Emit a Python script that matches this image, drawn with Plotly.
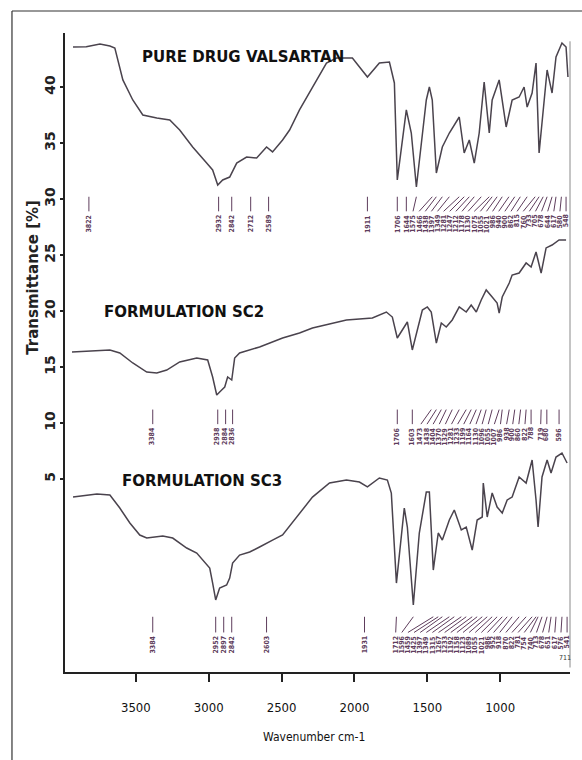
import plotly.graph_objects as go

# ---------------- spectra: wavenumber (cm-1) and transmittance (%) ----------------
pure_wn = [3931, 3840, 3746, 3678, 3644, 3589, 3521, 3452, 3356, 3267, 3199, 3110, 3014,
           2973, 2938, 2904, 2856, 2808, 2740, 2671, 2603, 2562, 2493, 2445, 2377, 2288,
           2192, 2123, 2014, 1911, 1829, 1760, 1726, 1706, 1644, 1610, 1575, 1507, 1486,
           1466, 1438, 1397, 1349, 1281, 1247, 1212, 1178, 1144, 1110, 1075, 1055, 1007,
           959, 918, 870, 836, 815, 781, 754, 733, 699, 678, 644, 617, 576, 548, 535]
pure_t = [43.57, 43.6, 43.84, 43.66, 43.48, 40.63, 38.84, 37.5, 37.23, 37.05, 36.16, 34.64,
          33.21, 32.59, 31.25, 31.70, 31.96, 33.21, 33.75, 33.66, 34.64, 34.20, 35.27, 36.16,
          37.95, 40.0, 42.14, 42.59, 42.59, 40.89, 42.14, 42.23, 40.36, 31.70, 37.95, 35.89,
          31.07, 38.84, 40.0, 38.84, 32.32, 34.64, 35.89, 37.32, 34.11, 35.27, 33.21, 35.89,
          40.45, 35.89, 38.84, 40.63, 36.43, 38.84, 39.11, 40.0, 38.21, 39.46, 42.14, 34.11,
          38.84, 41.52, 39.46, 42.68, 43.93, 43.57, 40.89]

sc2_wn = [3938, 3800, 3678, 3610, 3521, 3425, 3356, 3288, 3199, 3082, 3007, 2973, 2945,
          2911, 2890, 2870, 2842, 2822, 2788, 2651, 2493, 2377, 2288, 2055, 1877, 1781,
          1740, 1706, 1671, 1637, 1603, 1569, 1534, 1500, 1473, 1438, 1404, 1370, 1329,
          1281, 1233, 1199, 1164, 1130, 1096, 1055, 1021, 1007, 986, 938, 918, 870, 822,
          788, 754, 719, 685, 644, 596, 548]
sc2_t = [16.34, 16.45, 16.52, 16.25, 15.36, 14.55, 14.46, 14.73, 15.45, 15.80, 15.63, 14.11,
         12.5, 12.95, 13.21, 14.11, 13.84, 15.80, 16.25, 16.79, 17.59, 18.04, 18.48, 19.20,
         19.38, 19.91, 19.46, 17.59, 18.30, 19.02, 16.52, 18.30, 20.09, 20.36, 19.91, 17.14,
         18.93, 18.57, 19.20, 20.36, 19.91, 20.54, 19.91, 20.98, 21.88, 21.25, 20.71, 19.82,
         21.25, 22.5, 23.21, 23.39, 24.29, 23.93, 25.27, 23.39, 25.63, 25.89, 26.34, 26.34]

sc3_wn = [3931, 3767, 3678, 3610, 3541, 3473, 3425, 3315, 3247, 3151, 3082, 3041, 2993,
          2973, 2952, 2925, 2877, 2856, 2836, 2788, 2719, 2651, 2603, 2562, 2493, 2425,
          2377, 2288, 2171, 2055, 1966, 1911, 1829, 1774, 1747, 1712, 1658, 1637, 1596,
          1555, 1507, 1486, 1459, 1425, 1397, 1349, 1315, 1267, 1233, 1192, 1158, 1123,
          1116, 1089, 1055, 1021, 986, 952, 918, 870, 822, 781, 754, 740, 713, 678, 651,
          617, 576, 541]
sc3_t = [3.39, 3.66, 3.57, 2.41, 1.07, 0.0, -0.27, -0.09, -0.27, -1.16, -1.61, -2.23, -2.95,
         -4.29, -5.80, -4.73, -4.46, -3.84, -2.5, -1.79, -1.52, -1.07, -0.71, -0.45, 0.0,
         1.16, 1.88, 3.39, 4.64, 4.91, 4.73, 4.29, 5.09, 4.91, 3.75, -4.29, 2.41, 0.71,
         -6.25, 0.18, 3.84, 3.84, -3.13, 0.18, -0.45, 1.34, 2.23, 0.45, 0.71, -1.34, 1.34,
         1.61, 4.64, 1.61, 3.75, 2.5, 1.96, 3.13, 3.39, 5.18, 4.64, 6.70, 3.13, 0.71, 5.18,
         6.70, 5.54, 6.96, 7.32, 6.43]

# ---------------- picked peaks (cm-1) ----------------
pure_peaks = [3822, 2932, 2842, 2712, 2589, 1911, 1706, 1644, 1575, 1466, 1438, 1397, 1349,
              1281, 1247, 1212, 1178, 1130, 1075, 1055, 1021, 986, 940, 900, 862, 815, 760,
              733, 705, 678, 644, 617, 580, 548]
sc2_peaks = [3384, 2938, 2884, 2836, 1706, 1603, 1473, 1438, 1404, 1370, 1329, 1281, 1233,
             1199, 1164, 1130, 1096, 1055, 1007, 986, 938, 900, 860, 822, 788, 719, 680, 596]
sc3_peaks = [3384, 2952, 2897, 2842, 2603, 1931, 1712, 1596, 1459, 1425, 1397, 1349, 1315,
             1267, 1233, 1192, 1158, 1123, 1089, 1055, 1021, 986, 952, 918, 870, 822, 781,
             754, 740, 713, 678, 651, 617, 576, 541]

spectrum_names = ["PURE DRUG VALSARTAN", "FORMULATION SC2", "FORMULATION SC3"]
x_ticks = [3500, 3000, 2500, 2000, 1500, 1000]
y_ticks = [5, 10, 15, 20, 25, 30, 35, 40]

# ---------------- drawing styles ----------------
LINE_COLOR = "#4a434d"
PEAK_COLOR = "#5e3d5c"
AXIS_COLOR = "#222222"
X_RANGE = [3986, 521]
Y_RANGE = [-12.23, 44.82]
LABEL_GAP = 42          # minimum spacing between peak labels, cm-1
# leader top / leader bottom for each spectrum's peak-label band (axis units)
bands = [(30.2, 28.9), (11.2, 9.9), (-7.3, -8.7)]
# spectrum name placement (left edge x, centre y), axis units
name_pos = [(3473, 42.68), (3733, 19.91), (3610, 4.82)]
NARROW = "Liberation Sans Narrow, DejaVu Sans Condensed, sans-serif"


def spread(peaks, gap):
    """Sort peaks and push label positions apart so they never overlap."""
    s = sorted(peaks)
    pos = []
    for p in s:
        pos.append(p if not pos else max(p, pos[-1] + gap))
    return s, pos


fig = go.Figure()

for wn, t in [(pure_wn, pure_t), (sc2_wn, sc2_t), (sc3_wn, sc3_t)]:
    fig.add_trace(go.Scatter(
        x=wn, y=t, mode="lines",
        line=dict(color=LINE_COLOR, width=1.5),
        hoverinfo="skip", showlegend=False))

annotations = []
for peaks, (y_top, y_bot) in zip([pure_peaks, sc2_peaks, sc3_peaks], bands):
    s, pos = spread(peaks, LABEL_GAP)
    lx, ly = [], []
    for p, q in zip(s, pos):
        lx += [p, q, None]
        ly += [y_top, y_bot, None]
        annotations.append(dict(
            x=q, y=y_bot - 0.12, xref="x", yref="y", text=str(p), showarrow=False,
            textangle=-90, xanchor="center", yanchor="top",
            font=dict(family="DejaVu Sans Condensed, DejaVu Sans", size=7,
                      color=PEAK_COLOR, weight="bold")))
    fig.add_trace(go.Scatter(
        x=lx, y=ly, mode="lines", line=dict(color=PEAK_COLOR, width=1),
        hoverinfo="skip", showlegend=False))

for name, (nx, ny) in zip(spectrum_names, name_pos):
    annotations.append(dict(
        x=nx, y=ny, xref="x", yref="y", text=name, showarrow=False,
        xanchor="left", yanchor="middle",
        font=dict(family="DejaVu Sans", size=15, color="#111111", weight="bold")))

# axis titles
annotations.append(dict(
    x=-0.064, y=0.618, xref="paper", yref="paper", text="Transmittance [%]",
    showarrow=False, textangle=-90, xanchor="center", yanchor="middle",
    font=dict(family="DejaVu Sans", size=15, color="#222222", weight="bold")))
annotations.append(dict(
    x=0.493, y=-0.102, xref="paper", yref="paper", text="Wavenumber cm-1",
    showarrow=False, xanchor="center", yanchor="middle",
    font=dict(family=NARROW, size=12, color="#111111")))
annotations.append(dict(
    x=0.99, y=0.012, xref="paper", yref="paper", text="711", showarrow=False,
    xanchor="center", yanchor="bottom",
    font=dict(family="DejaVu Sans Condensed", size=7, color="#333333")))

shapes = [
    # outer picture frame
    dict(type="line", xref="paper", yref="paper", x0=-0.105, x1=1.1, y0=1.0344, y1=1.0344,
         line=dict(color="#333333", width=1.2)),
    dict(type="line", xref="paper", yref="paper", x0=-0.105, x1=-0.105, y0=1.0344, y1=-0.2,
         line=dict(color="#333333", width=1.2)),
    # right-hand border of the plot box
    dict(type="line", xref="paper", yref="paper", x0=1.0, x1=1.0, y0=0.007, y1=0.987,
         line=dict(color="#8a8a8a", width=1)),
]

fig.update_layout(
    width=582, height=760,
    margin=dict(l=65, r=12, t=33, b=88),
    paper_bgcolor="white", plot_bgcolor="white",
    annotations=annotations, shapes=shapes,
    xaxis=dict(range=X_RANGE, tickvals=x_ticks, ticks="outside", ticklen=8, tickwidth=1.5,
               tickcolor=AXIS_COLOR, showline=True, linecolor=AXIS_COLOR, linewidth=1.8,
               showgrid=False, zeroline=False, ticklabelstandoff=14,
               tickfont=dict(family=NARROW, size=13, color="#111111")),
    yaxis=dict(range=Y_RANGE, tickvals=y_ticks, ticks="outside", ticklen=3, tickwidth=1.5,
               tickcolor=AXIS_COLOR, showline=True, linecolor=AXIS_COLOR, linewidth=1.8,
               showgrid=False, zeroline=False, tickangle=-90, ticklabelstandoff=0,
               tickfont=dict(family="DejaVu Sans", size=14, color="#222222", weight="bold")),
)

fig.write_html("out.html")
